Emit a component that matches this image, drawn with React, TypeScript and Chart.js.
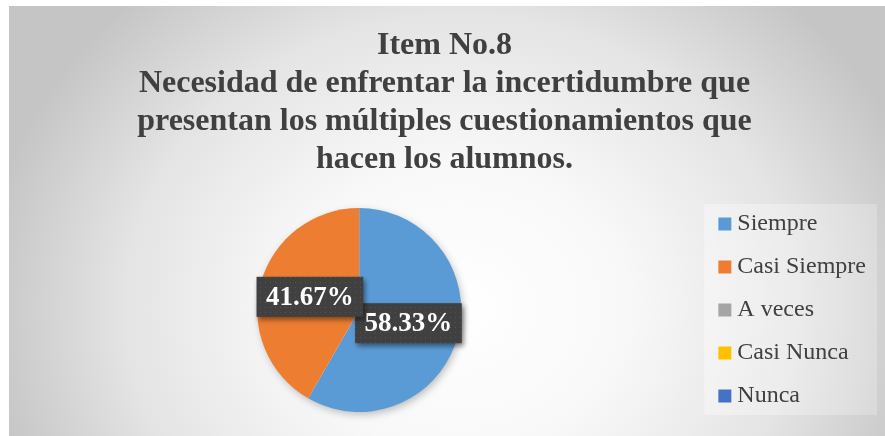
import React, { useEffect, useRef } from 'react';
import { Chart, registerables } from 'chart.js';

Chart.register(...registerables);

const titleLines = [
  'Item No.8',
  'Necesidad de enfrentar la incertidumbre que',
  'presentan los múltiples cuestionamientos que',
  'hacen los alumnos.',
];
const categories = ['Siempre', 'Casi Siempre', 'A veces', 'Casi Nunca', 'Nunca'];
const values = [58.33, 41.67, 0, 0, 0];
const colors = ['#5B9BD5', '#ED7D31', '#A5A5A5', '#FFC000', '#4472C4'];

const SERIF = "'Liberation Serif', 'Times New Roman', serif";
const TEXT_COLOR = '#404040';

const bgPlugin = {
  id: 'bgGradient',
  beforeDraw(chart: any) {
    const { ctx, width, height } = chart;
    ctx.save();
    const cx = width * 0.515;
    const cy = height * 0.70;
    const rx = 480;
    const ry = 420;
    const s = ry / rx;
    ctx.translate(cx, cy);
    ctx.scale(1, s);
    const g = ctx.createRadialGradient(0, 0, 0, 0, 0, rx);
    g.addColorStop(0, '#ffffff');
    g.addColorStop(0.35, '#f8f8f8');
    g.addColorStop(0.7, '#e4e4e4');
    g.addColorStop(1, '#c5c5c5');
    ctx.fillStyle = g;
    ctx.fillRect(-cx, -cy / s, width, height / s);
    ctx.restore();

    // legend panel (slightly lighter box)
    const lg = chart.legend;
    if (lg && lg.legendHitBoxes && lg.legendHitBoxes.length) {
      const hb = lg.legendHitBoxes;
      const top = hb[0].top - 8;
      const bottom = hb[hb.length - 1].top + hb[hb.length - 1].height + 7;
      const left = lg.left - 1;
      const right = width - 8;
      ctx.save();
      const lgGrad = ctx.createLinearGradient(left, 0, right, 0);
      lgGrad.addColorStop(0, 'rgba(255,255,255,0.35)');
      lgGrad.addColorStop(1, 'rgba(255,255,255,0.22)');
      ctx.fillStyle = lgGrad;
      ctx.fillRect(left, top, right - left, bottom - top);
      ctx.restore();
    }
  },
};

const pieShadowPlugin = {
  id: 'pieShadow',
  beforeDatasetsDraw(chart: any) {
    const meta = chart.getDatasetMeta(0);
    const arc = meta.data.find((a: any) => a && a.outerRadius > 0);
    if (!arc) return;
    const { ctx } = chart;
    ctx.save();
    ctx.shadowColor = 'rgba(0,0,0,0.28)';
    ctx.shadowBlur = 8;
    ctx.shadowOffsetX = 2;
    ctx.shadowOffsetY = 3;
    ctx.fillStyle = '#ffffff';
    ctx.beginPath();
    ctx.arc(arc.x, arc.y, arc.outerRadius - 1, 0, Math.PI * 2);
    ctx.fill();
    ctx.restore();
  },
};

let dotPattern: CanvasPattern | null = null;
function getPattern(ctx: CanvasRenderingContext2D) {
  if (dotPattern) return dotPattern;
  const c = document.createElement('canvas');
  c.width = 5;
  c.height = 5;
  const p = c.getContext('2d')!;
  p.fillStyle = '#404040';
  p.fillRect(0, 0, 5, 5);
  p.fillStyle = '#535353';
  p.fillRect(1, 1, 1, 1);
  dotPattern = ctx.createPattern(c, 'repeat');
  return dotPattern;
}

const labelPlugin = {
  id: 'pctLabels',
  afterDatasetsDraw(chart: any) {
    const { ctx } = chart;
    const meta = chart.getDatasetMeta(0);
    const data = chart.data.datasets[0].data as number[];
    ctx.save();
    ctx.font = `bold 27px ${SERIF}`;
    ctx.textAlign = 'center';
    ctx.textBaseline = 'middle';
    meta.data.forEach((arc: any, i: number) => {
      const v = data[i];
      if (!v) return;
      const pos = arc.tooltipPosition();
      const text = v.toFixed(2) + '%';
      const tw = ctx.measureText(text).width;
      const w = tw + 19;
      const h = 40;
      ctx.save();
      ctx.shadowColor = 'rgba(0,0,0,0.45)';
      ctx.shadowBlur = 5;
      ctx.shadowOffsetX = 2;
      ctx.shadowOffsetY = 3;
      ctx.fillStyle = getPattern(ctx) || '#404040';
      ctx.fillRect(pos.x - w / 2, pos.y - h / 2, w, h);
      ctx.restore();
      ctx.fillStyle = '#ffffff';
      ctx.fillText(text, pos.x, pos.y + 1);
    });
    ctx.restore();
  },
};

export default function App() {
  const canvasRef = useRef<HTMLCanvasElement | null>(null);

  useEffect(() => {
    document.body.style.margin = '0';
    const canvas = canvasRef.current;
    if (!canvas) return;
    const chart = new Chart(canvas, {
      type: 'pie',
      data: {
        labels: categories,
        datasets: [
          {
            data: values,
            backgroundColor: colors,
            borderWidth: 0,
            radius: 102,
          } as any,
        ],
      },
      options: {
        responsive: false,
        animation: false,
        devicePixelRatio: 1,
        layout: { padding: { left: 4, right: 9, top: 0, bottom: 2 } },
        plugins: {
          title: {
            display: true,
            text: titleLines,
            color: TEXT_COLOR,
            font: { family: SERIF, size: 32, weight: 'bold', lineHeight: '38px' } as any,
            padding: { top: 21, bottom: 7 },
          },
          legend: {
            position: 'right',
            fullSize: false,
            align: 'center',
            labels: {
              usePointStyle: true,
              pointStyle: 'rect',
              boxWidth: 1,
              boxHeight: 13,
              padding: 19,
              color: TEXT_COLOR,
              font: { family: SERIF, size: 24 },
            },
          },
          tooltip: { enabled: false },
        },
      } as any,
      plugins: [bgPlugin, pieShadowPlugin, labelPlugin],
    });
    return () => chart.destroy();
  }, []);

  return (
    <div style={{ position: 'absolute', left: 9, top: 6, width: 876, height: 430 }}>
      <canvas ref={canvasRef} width={876} height={430} style={{ display: 'block' }} />
    </div>
  );
}
